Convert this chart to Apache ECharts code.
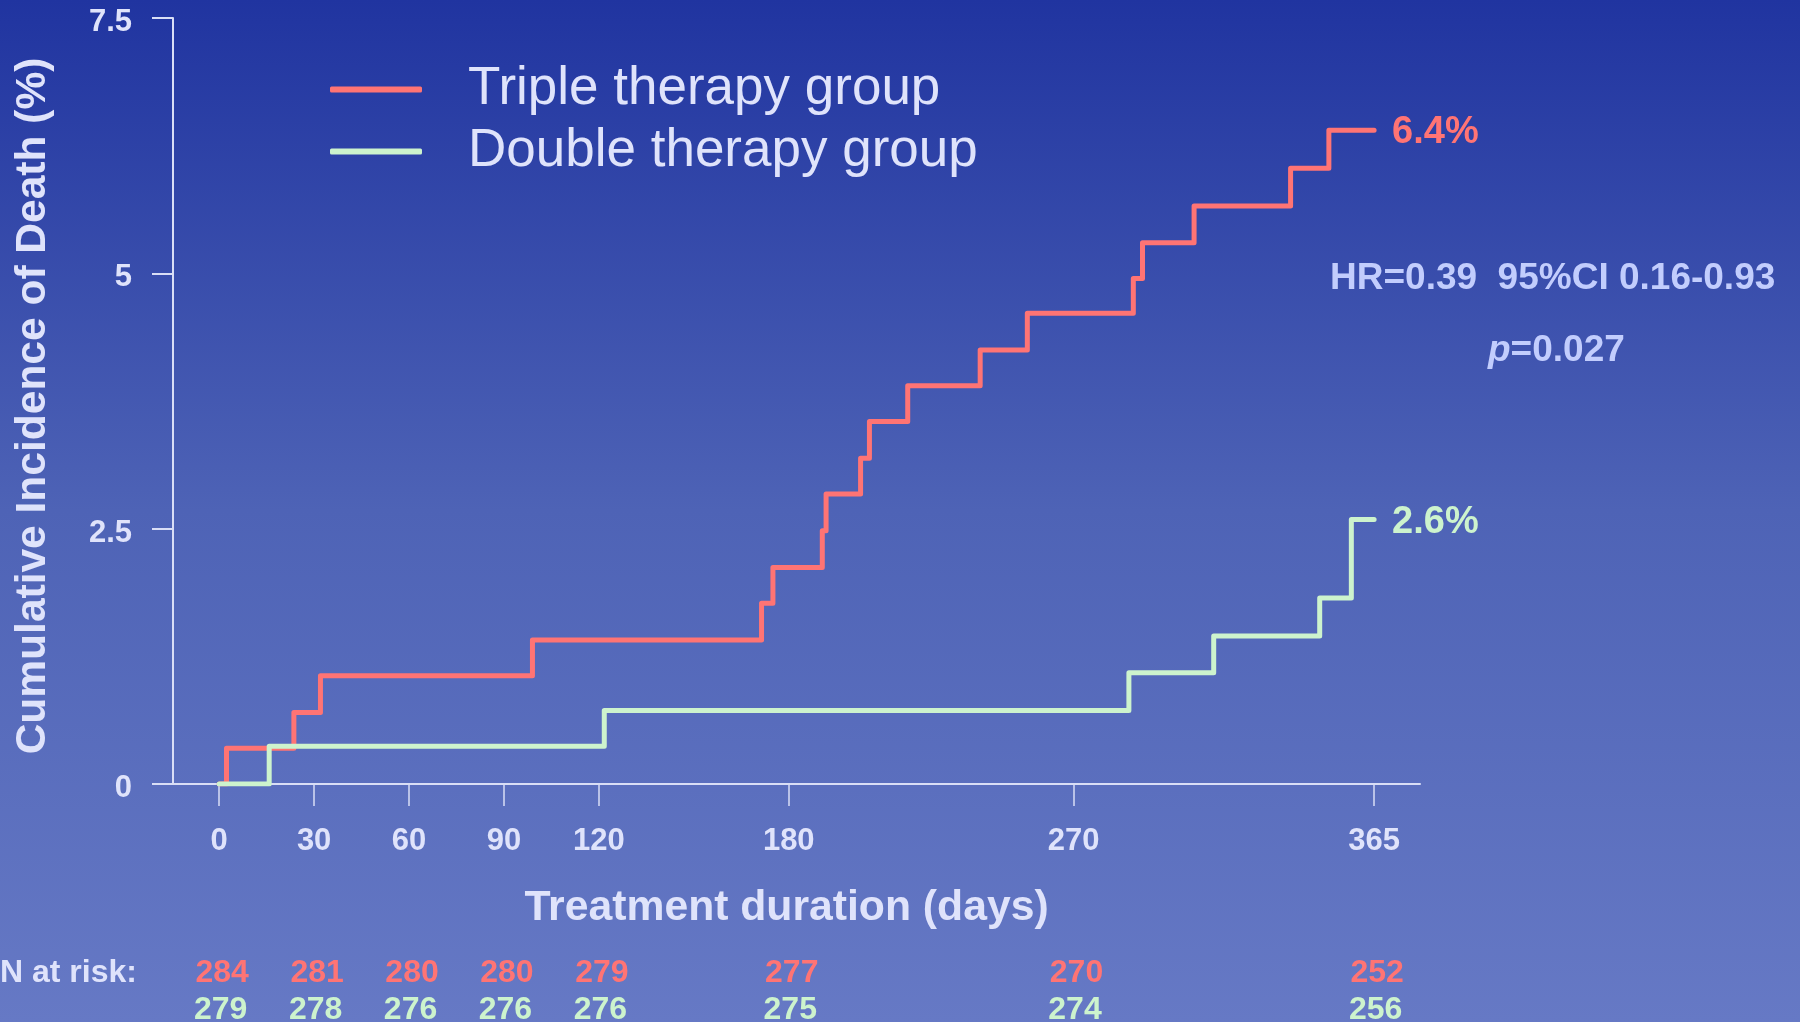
<!DOCTYPE html>
<html>
<head>
<meta charset="utf-8">
<script src="https://cdn.jsdelivr.net/npm/echarts@6/dist/echarts.min.js"></script>
<style>
html,body{margin:0;padding:0;background:linear-gradient(#2034a0,#4e63b6 50%,#6679c5);}
#chart{width:1800px;height:1022px;}
</style>
</head>
<body>
<div id="chart"></div>
<script>
// ---- data ----
const seriesNames = ['Triple therapy group', 'Double therapy group'];
const tripleDays = [0, 2.3, 23.6, 32.0, 99.0, 171.4, 175.0, 190.6, 191.8, 202.7, 205.5, 217.6, 240.5, 255.4, 288.9, 291.8, 308.1, 338.6, 350.7, 365];
const tripleInc  = [0, 0.35, 0.70, 1.06, 1.41, 1.77, 2.12, 2.48, 2.84, 3.19, 3.55, 3.90, 4.25, 4.61, 4.95, 5.30, 5.66, 6.03, 6.40, 6.40];
const doubleDays = [0, 15.8, 121.7, 287.5, 314.3, 347.8, 357.8, 365];
const doubleInc  = [0, 0.37, 0.72, 1.09, 1.45, 1.82, 2.59, 2.59];
const tickDays = [0, 30, 60, 90, 120, 180, 270, 365];
const yTicks = [0, 2.5, 5, 7.5];
const tripleRisk = [284, 281, 280, 280, 279, 277, 270, 252];
const doubleRisk = [279, 278, 276, 276, 276, 275, 274, 256];
const hrText = 'HR=0.39  95%CI 0.16-0.93';
const pText = '0.027';
const yTitle = 'Cumulative Incidence of Death (%)';
const xTitle = 'Treatment duration (days)';
const riskTitle = 'N at risk:';

// ---- styles ----
const FONT = '"Liberation Sans", Arial, Helvetica, sans-serif';
const RED = '#ff7474';
const GREEN = '#cdf3cd';
const TXT = '#dfe3fb';
const AX = '#d9def6';
const HRC = '#c2cdfd';

const chart = echarts.init(document.getElementById('chart'), null, {renderer: 'canvas'});

function pairs(xs, ys) { return xs.map((x, i) => [x, ys[i]]); }
function riskFormatter(arr) {
  return function (v) {
    const i = tickDays.indexOf(Math.round(v));
    return i >= 0 ? String(arr[i]) : '';
  };
}
const xMin = -14.6, xMax = 379.5;

const option = {
  backgroundColor: {
    type: 'linear', x: 0, y: 0, x2: 0, y2: 1,
    colorStops: [
      {offset: 0, color: '#2034a0'},
      {offset: 0.5, color: '#4e63b6'},
      {offset: 1, color: '#6679c5'}
    ]
  },
  animation: false,
  textStyle: {fontFamily: FONT},
  grid: {left: 173, top: 18, width: 1247, height: 766, containLabel: false, outerBoundsMode: 'none'},
  legend: {
    left: 325, top: 58, orient: 'vertical',
    icon: 'roundRect', itemWidth: 92, itemHeight: 6, itemGap: 9,
    data: seriesNames,
    textStyle: {color: TXT, fontSize: 53, fontFamily: FONT, padding: [0, 0, 0, 41]}
  },
  title: [
    {text: hrText, left: 1325, top: 255,
     textStyle: {color: HRC, fontSize: 37, fontWeight: 'bold', fontFamily: FONT}},
    {text: '{i|p}=' + pText, left: 1483, top: 327,
     textStyle: {color: HRC, fontSize: 37, fontWeight: 'bold', fontFamily: FONT,
       rich: {i: {fontStyle: 'italic', fontWeight: 'bold', fontSize: 37, color: HRC, fontFamily: FONT}}}}
  ],
  xAxis: [
    {
      type: 'value', min: xMin, max: xMax,
      name: xTitle, nameLocation: 'middle', nameGap: 103,
      nameTextStyle: {color: TXT, fontSize: 42.7, fontWeight: 'bold', fontFamily: FONT, padding: [0, 20, 0, 0]},
      axisLine: {show: true, onZero: false, lineStyle: {color: AX, width: 2}},
      axisTick: {show: true, customValues: tickDays, length: 22, lineStyle: {color: AX, width: 1.5}},
      axisLabel: {customValues: tickDays, margin: 42, color: TXT, fontSize: 31, fontWeight: 'bold', fontFamily: FONT},
      splitLine: {show: false}
    },
    {
      type: 'value', min: xMin, max: xMax, position: 'bottom', offset: 173,
      axisLine: {show: false, onZero: false}, axisTick: {show: false}, splitLine: {show: false},
      axisLabel: {customValues: tickDays, margin: 0, formatter: riskFormatter(tripleRisk),
        padding: [0, 0, 0, 6],
        color: RED, fontSize: 32, fontWeight: 'bold', fontFamily: FONT}
    },
    {
      type: 'value', min: xMin, max: xMax, position: 'bottom', offset: 210,
      axisLine: {show: false, onZero: false}, axisTick: {show: false}, splitLine: {show: false},
      axisLabel: {customValues: tickDays, margin: 0, formatter: riskFormatter(doubleRisk),
        padding: [0, 0, 0, 3],
        color: GREEN, fontSize: 32, fontWeight: 'bold', fontFamily: FONT}
    }
  ],
  yAxis: {
    type: 'value', min: 0, max: 7.5, interval: 2.5,
    name: yTitle, nameLocation: 'middle', nameGap: 118, nameRotate: 90,
    nameTextStyle: {color: TXT, fontSize: 42.5, fontWeight: 'bold', fontFamily: FONT, padding: [0, 10, 0, 0]},
    axisLine: {show: true, onZero: false, lineStyle: {color: AX, width: 2}},
    axisTick: {show: true, length: 21, lineStyle: {color: AX, width: 2}},
    axisLabel: {margin: 41, color: TXT, fontSize: 31, fontWeight: 'bold', fontFamily: FONT,
      verticalAlign: 'top', lineHeight: 9,
      formatter: v => (yTicks.indexOf(v) >= 0 ? String(v) : '')},
    splitLine: {show: false}
  },
  graphic: [
    {type: 'text', left: 0, top: 957, z: 10,
     style: {text: riskTitle, fill: TXT, font: 'bold 32px ' + FONT}}
  ],
  series: [
    {
      name: seriesNames[0], type: 'line', step: 'end', xAxisIndex: 0,
      data: pairs(tripleDays, tripleInc), showSymbol: false, symbol: 'none',
      color: RED,
      lineStyle: {color: RED, width: 5, cap: 'round', join: 'round'},
      endLabel: {show: true, distance: 18, offset: [0, 2], formatter: p => p.value[1].toFixed(1) + '%',
        color: RED, fontSize: 38, fontWeight: 'bold', fontFamily: FONT},
      z: 3
    },
    {
      name: seriesNames[1], type: 'line', step: 'end', xAxisIndex: 0,
      data: pairs(doubleDays, doubleInc), showSymbol: false, symbol: 'none',
      color: GREEN,
      lineStyle: {color: GREEN, width: 5, cap: 'round', join: 'round'},
      endLabel: {show: true, distance: 18, offset: [0, 3], formatter: p => p.value[1].toFixed(1) + '%',
        color: GREEN, fontSize: 38, fontWeight: 'bold', fontFamily: FONT},
      z: 4
    }
  ]
};
chart.setOption(option);
</script>
</body>
</html>
